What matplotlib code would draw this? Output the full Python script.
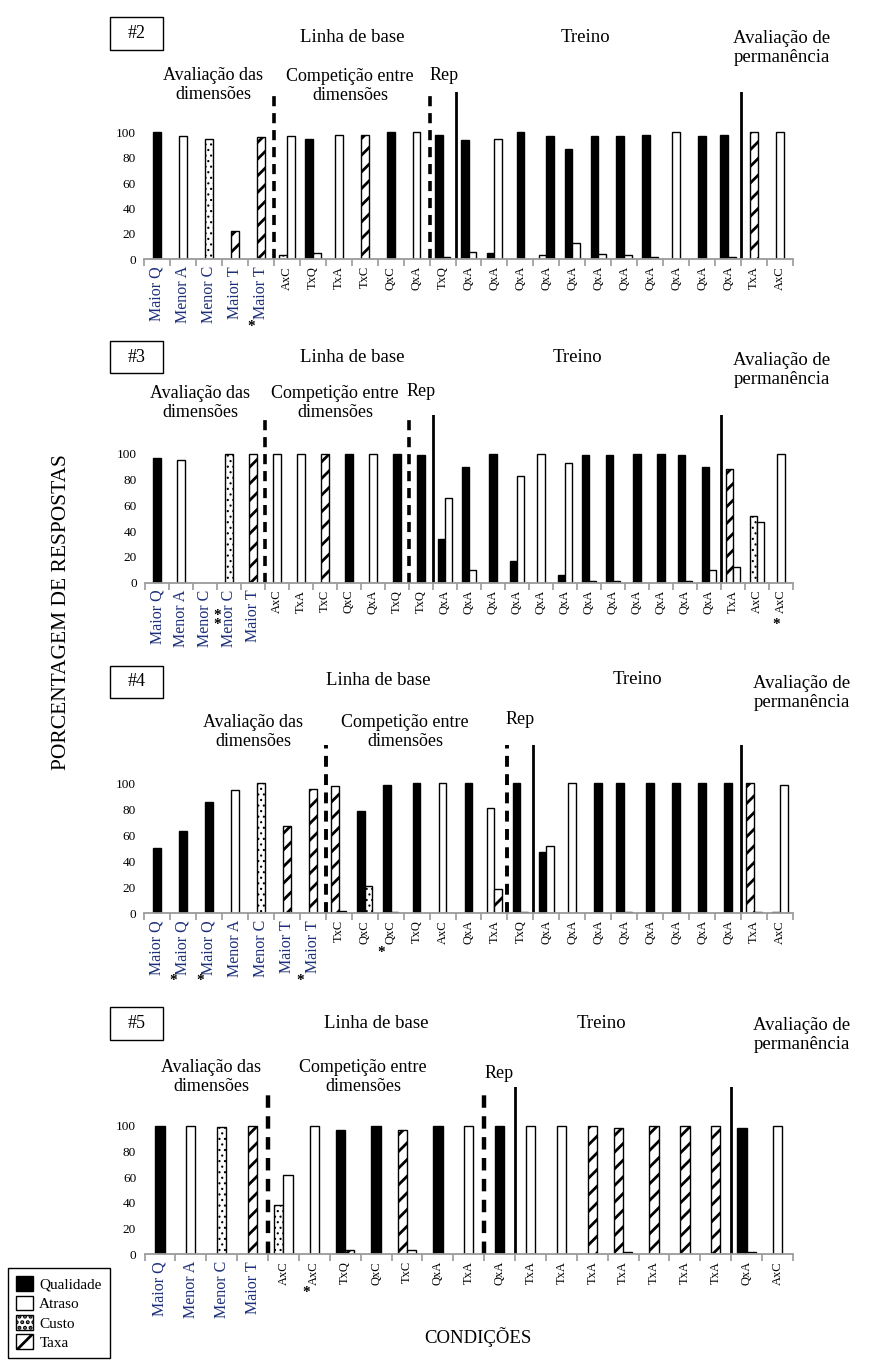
import numpy as np
import matplotlib
matplotlib.use("Agg")
import matplotlib.pyplot as plt
from matplotlib.patches import Patch, Rectangle

plt.rcParams['font.family'] = ['Liberation Serif', 'DejaVu Serif']
plt.rcParams['hatch.linewidth'] = 2.0

W, H = 874, 1368

# series: Q = Qualidade, A = Atraso, C = Custo, T = Taxa
# ser_* gives the series of the bars in each condition (left to right)

# painel #2
rot_2 = ["Maior Q", "Menor A", "Menor C", "Maior T", "Maior T", "AxC", "TxQ", "TxA", "TxC", "QxC",
         "QxA", "TxQ", "QxA", "QxA", "QxA", "QxA", "QxA", "QxA", "QxA", "QxA",
         "QxA", "QxA", "QxA", "TxA", "AxC"]
ser_2 = ["Q", "A", "C", "T", "T", "CA", "QT", "A", "T", "Q",
         "A", "QT", "QA", "QA", "Q", "AQ", "QA", "QA", "QA", "QA",
         "A", "Q", "QA", "T", "A"]
esq_2 = [100, 97, 95, 22, 96, 3, 95, 98, 98, 100,
         100, 98, 94, 5, 100, 3, 87, 97, 97, 98,
         100, 97, 98, 100, 100]
dir_2 = [None, None, None, None, None, 97, 5, None, None, None,
         None, 2, 6, 95, None, 97, 13, 4, 3, 2,
         None, None, 2, None, None]

# painel #3
rot_3 = ["Maior Q", "Menor A", "Menor C", "Menor C", "Maior T", "AxC", "TxA", "TxC", "QxC", "QxA",
         "TxQ", "TxQ", "QxA", "QxA", "QxA", "QxA", "QxA", "QxA", "QxA", "QxA",
         "QxA", "QxA", "QxA", "QxA", "TxA", "AxC", "AxC"]
ser_3 = ["Q", "A", "", "C", "T", "A", "A", "T", "Q", "A",
         "Q", "Q", "QA", "QA", "Q", "QA", "A", "QA", "QA", "QA",
         "Q", "Q", "QA", "QA", "TA", "CA", "A"]
esq_3 = [97, 95, None, 100, 100, 100, 100, 100, 100, 100,
         100, 99, 34, 90, 100, 17, 100, 6, 99, 99,
         100, 100, 99, 90, 88, 52, 100]
dir_3 = [None, None, None, None, None, None, None, None, None, None,
         None, None, 66, 10, None, 83, None, 93, 1, 1,
         None, None, 1, 10, 12, 47, None]

# painel #4
rot_4 = ["Maior Q", "Maior Q", "Maior Q", "Menor A", "Menor C", "Maior T", "Maior T", "TxC", "QxC", "QxC",
         "TxQ", "AxC", "QxA", "TxA", "TxQ", "QxA", "QxA", "QxA", "QxA", "QxA",
         "QxA", "QxA", "QxA", "TxA", "AxC"]
ser_4 = ["Q", "Q", "Q", "A", "C", "T", "T", "TC", "QC", "QC",
         "Q", "A", "Q", "AT", "QT", "QA", "A", "Q", "QA", "Q",
         "Q", "Q", "Q", "TA", "CA"]
esq_4 = [50, 63, 86, 95, 100, 67, 96, 98, 79, 99,
         100, 100, 100, 81, 100, 47, 100, 100, 100, 100,
         100, 100, 100, 100, 1]
dir_4 = [None, None, None, None, None, None, None, 2, 21, 1,
         None, None, None, 19, 1, 52, None, None, 1, None,
         None, None, None, 1, 99]

# painel #5
rot_5 = ["Maior Q", "Menor A", "Menor C", "Maior T", "AxC", "AxC", "TxQ", "QxC", "TxC", "QxA",
         "TxA", "QxA", "TxA", "TxA", "TxA", "TxA", "TxA", "TxA", "TxA", "QxA", "AxC"]
ser_5 = ["Q", "A", "C", "T", "CA", "A", "QT", "Q", "TC", "Q",
         "A", "Q", "A", "A", "T", "TA", "T", "T", "T", "QA", "A"]
esq_5 = [100, 100, 99, 100, 38, 100, 97, 100, 97, 100,
         100, 100, 100, 100, 100, 98, 100, 100, 100, 98, 100]
dir_5 = [None, None, None, None, 62, None, 3, None, 3, None,
         None, None, None, None, None, 2, None, None, None, 2, None]

estilo = {
    "Q": dict(color="black", edgecolor="black"),
    "A": dict(color="white", edgecolor="black"),
    "C": dict(color="white", edgecolor="black", hatch="..."),
    "T": dict(color="white", edgecolor="black", hatch="//"),
}
hatch_lw = {"Q": 2.0, "A": 2.0, "C": 0.8, "T": 2.0}
nomes = {"Q": "Qualidade", "A": "Atraso", "C": "Custo", "T": "Taxa"}

# layout of each panel in pixels
paineis = [
    dict(num="#2", rot=rot_2, ser=ser_2, esq=esq_2, dir=dir_2,
         geo=(144, 793, 259.3, 132.3, 92), tracejado=[5, 11], solido=[12, 23], lw_tr=2.6,
         caixa=(110, 17, 163, 50), linha=(352, 38), treino=(585, 37), perm=(782, 48),
         dim=(213, 85), comp=(350, 86), rep=(444, 75),
         estrelas=[(251, 327, "*")]),
    dict(num="#3", rot=rot_3, ser=ser_3, esq=esq_3, dir=dir_3,
         geo=(145, 793, 582.7, 454, 415), tracejado=[5, 11], solido=[12, 24], lw_tr=2.6,
         caixa=(110, 341, 163, 373), linha=(352, 358), treino=(577, 358), perm=(782, 370),
         dim=(200, 403), comp=(335, 403), rep=(421, 392),
         estrelas=[(217, 620, "*\n*"), (776, 624, "*")]),
    dict(num="#4", rot=rot_4, ser=ser_4, esq=esq_4, dir=dir_4,
         geo=(144, 793, 913.3, 783.3, 745), tracejado=[7, 14], solido=[15, 23], lw_tr=2.8,
         caixa=(110, 666, 163, 698), linha=(378, 681), treino=(637, 680), perm=(802, 693),
         dim=(253, 732), comp=(405, 732), rep=(520, 720),
         estrelas=[(173, 981, "*"), (200, 981, "*"), (300, 981, "*"), (381, 953, "*")]),
    dict(num="#5", rot=rot_5, ser=ser_5, esq=esq_5, dir=dir_5,
         geo=(144.5, 793, 1254.3, 1125.7, 1087), tracejado=[4, 11], solido=[12, 19], lw_tr=3.2,
         caixa=(110, 1007, 163, 1040), linha=(376, 1023), treino=(601, 1023), perm=(802, 1035),
         dim=(211, 1077), comp=(363, 1077), rep=(499, 1073),
         estrelas=[(306, 1292, "*")]),
]

fig = plt.figure(figsize=(W / 100, H / 100), dpi=100)


def ftxt(x, y, s, **kw):
    fig.text(x / W, 1 - y / H, s, ha="center", va="center", **kw)


for p in paineis:
    x0, x1, base, y100, ytop = p["geo"]
    ax = fig.add_axes([x0 / W, 1 - base / H, (x1 - x0) / W, (base - ytop) / H])
    n = len(p["rot"])
    ymax = 100 * (base - ytop) / (base - y100)

    for i in range(n):
        s = p["ser"][i]
        vals = [p["esq"][i], p["dir"][i]]
        offs = [0] if len(s) == 1 else [-0.15, 0.15]
        for k, ch in enumerate(s):
            with plt.rc_context({"hatch.linewidth": hatch_lw[ch]}):
                ax.bar(i + offs[k], vals[k], width=0.3, linewidth=1.0, **estilo[ch])

    for b in p["tracejado"]:
        ax.axvline(b - 0.5, color="black", lw=p["lw_tr"], ls=(0, (2.8, 1.9)))
    for b in p["solido"]:
        ax.axvline(b - 0.5, color="black", lw=2.0)

    ax.set_xlim(-0.5, n - 0.5)
    ax.set_ylim(0, ymax)
    ax.set_yticks(range(0, 101, 20))
    ax.tick_params(axis="y", length=0, pad=6, labelsize=9.5)
    ax.set_xticks(range(n))
    ax.set_xticklabels(p["rot"], rotation=90)
    ax.set_xticks(np.arange(n + 1) - 0.5, minor=True)
    ax.tick_params(axis="x", which="major", length=0, pad=5)
    ax.tick_params(axis="x", which="minor", length=5, color="#9a9a9a", width=1.2)
    for lab in ax.get_xticklabels():
        if lab.get_text().startswith("M"):
            lab.set_fontsize(11.5)
            lab.set_color("#1c2f7a")
        else:
            lab.set_fontsize(9)
    for sp in ["left", "right", "top"]:
        ax.spines[sp].set_visible(False)
    ax.spines["bottom"].set_color("#9a9a9a")
    ax.spines["bottom"].set_linewidth(1.3)
    ax.patch.set_alpha(0)

    bx0, by0, bx1, by1 = p["caixa"]
    fig.patches.append(Rectangle((bx0 / W, 1 - by1 / H), (bx1 - bx0) / W, (by1 - by0) / H,
                                 transform=fig.transFigure, fill=False, edgecolor="black", lw=1.0))
    ftxt((bx0 + bx1) / 2, (by0 + by1) / 2, p["num"], fontsize=13)
    ftxt(*p["linha"], "Linha de base", fontsize=13.5)
    ftxt(*p["treino"], "Treino", fontsize=13.5)
    ftxt(*p["perm"], "Avaliação de\npermanência", fontsize=13.5, linespacing=1.15)
    ftxt(*p["dim"], "Avaliação das\ndimensões", fontsize=13, linespacing=1.15)
    ftxt(*p["comp"], "Competição entre\ndimensões", fontsize=13, linespacing=1.15)
    ftxt(*p["rep"], "Rep", fontsize=13)
    for ex, ey, st in p["estrelas"]:
        ftxt(ex, ey, st, fontsize=11, fontweight="bold", linespacing=0.55)

ftxt(62, 612, "PORCENTAGEM DE RESPOSTAS", fontsize=15.5, rotation=90)
ftxt(478, 1337, "CONDIÇÕES", fontsize=13.5)

handles = []
for k in ["Q", "A", "C", "T"]:
    with plt.rc_context({"hatch.linewidth": hatch_lw[k]}):
        handles.append(Patch(facecolor=estilo[k]["color"], edgecolor="black",
                             hatch=estilo[k].get("hatch"), label=nomes[k]))
fig.legend(handles=handles, loc="upper left", bbox_to_anchor=(8 / W, 1 - 1268 / H),
           frameon=True, fancybox=False, edgecolor="black", framealpha=1,
           fontsize=11, handlelength=1.1, handleheight=1.1, handletextpad=0.4,
           labelspacing=0.25, borderpad=0.55, borderaxespad=0)

fig.savefig("out.png", dpi=100)
